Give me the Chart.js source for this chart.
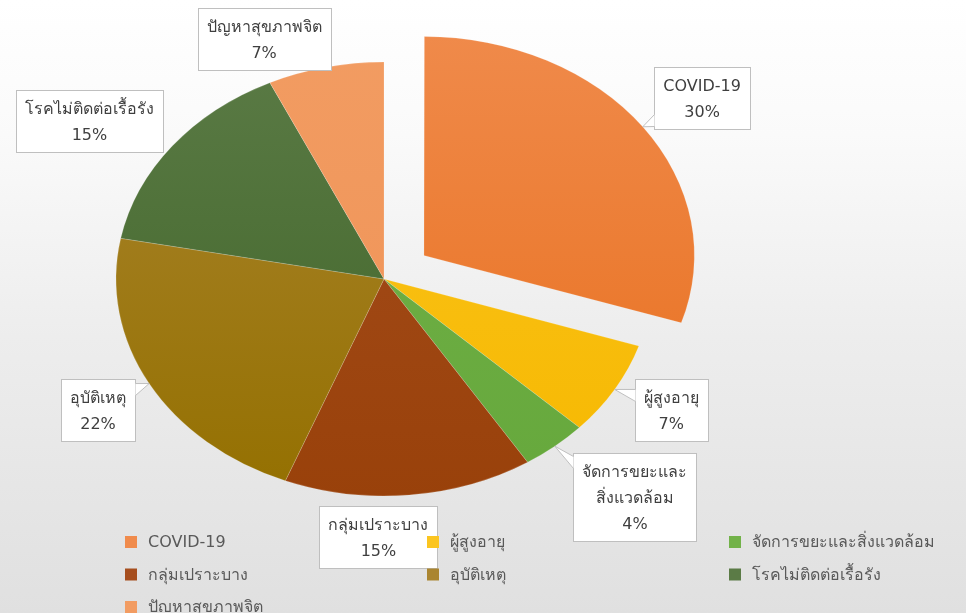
<!DOCTYPE html>
<html><head><meta charset="utf-8">
<script src="https://cdn.jsdelivr.net/npm/chart.js@4.4.1/dist/chart.umd.min.js"></script>
<style>
html,body{margin:0;padding:0;}
body{width:966px;height:613px;overflow:hidden;background:linear-gradient(to bottom,#ffffff 0%,#fafafa 22%,#ededed 55%,#e0e0e0 100%);}
#wrap{position:relative;width:966px;height:613px;}
canvas{display:block;}
</style></head><body>
<div id="wrap"><canvas id="c" width="966" height="613"></canvas></div>
<script>
// ---- data ----
const categories = ['COVID-19','ผู้สูงอายุ','จัดการขยะและสิ่งแวดล้อม','กลุ่มเปราะบาง','อุบัติเหตุ','โรคไม่ติดต่อเรื้อรัง','ปัญหาสุขภาพจิต'];
const shares = [30, 7, 4, 15, 22, 15, 7];
const percentText = ['30%','7%','4%','15%','22%','15%','7%'];
const labelLines = [['COVID-19'],['ผู้สูงอายุ'],['จัดการขยะและ','สิ่งแวดล้อม'],['กลุ่มเปราะบาง'],['อุบัติเหตุ'],['โรคไม่ติดต่อเรื้อรัง'],['ปัญหาสุขภาพจิต']];
const explodedSlice = [true, false, false, false, false, false, false];

// ---- style / layout ----
const colorTop    = ['#F08B4C','#FBC520','#72B249','#A64E1E','#AA8530','#5B7B46','#F29C62'];
const colorBottom = ['#E8701F','#F6B800','#66A83C','#99410A','#947000','#3F6427','#EF9255'];
const FONT = "'DejaVu Sans','Noto Sans',sans-serif";
const SX = 1.235;          // horizontal stretch of the pie
const R = 217;
const labelAngleAdj = [1, -1.2, -3.4, 6.4, -0.7, -4.3, -9.4];   // degrees
const labelDist = [1.258, 1.23, 1.373, 1.189, 1.226, 1.318, 1.194];
const showLeader = [true, true, true, false, true, false, false];

function grad(chart, i){
  const g = chart.ctx.createLinearGradient(0, 40, 0, 500);
  g.addColorStop(0, colorTop[i]); g.addColorStop(1, colorBottom[i]);
  return g;
}

const stretch = {
  id:'stretch',
  beforeDatasetsDraw(chart){
    const el = chart.getDatasetMeta(0).data[0];
    const c = chart.ctx; c.save();
    c.translate(el.x,0); c.scale(SX,1); c.translate(-el.x,0);
  },
  afterDatasetsDraw(chart){ chart.ctx.restore(); }
};

function arcGeom(el){
  const mid = (el.startAngle + el.endAngle)/2;
  const off = (el.options.offset||0)/4;
  const circ = el.endAngle - el.startAngle;
  const fix = 1 - Math.sin(Math.min(Math.PI, circ));
  const d = off + off*fix;
  return {mid, cx: el.x + Math.cos(mid)*d, cy: el.y + Math.sin(mid)*d, ox: el.x};
}

const dataLabels = {
  id:'dataLabels',
  afterDraw(chart){
    const c = chart.ctx;
    const meta = chart.getDatasetMeta(0);
    c.save();
    c.font = '16px ' + FONT;
    meta.data.forEach((el, i) => {
      const g = arcGeom(el);
      const sx = x => g.ox + (x - g.ox)*SX;
      const r = el.outerRadius;
      const tip = {x: sx(g.cx + Math.cos(g.mid)*r), y: g.cy + Math.sin(g.mid)*r};
      const a = g.mid + labelAngleAdj[i]*Math.PI/180;
      const lc = {x: sx(g.cx + Math.cos(a)*r*labelDist[i]), y: g.cy + Math.sin(a)*r*labelDist[i]};
      const lines = labelLines[i].concat([percentText[i]]);
      let w = 0; lines.forEach(t => w = Math.max(w, c.measureText(t).width));
      const bw = Math.round(w + 18), lh = 26, bh = lines.length*lh + 10;
      const L = Math.round(lc.x - bw/2)+0.5, T = Math.round(lc.y - bh/2)+0.5;
      c.fillStyle = '#ffffff'; c.strokeStyle = '#BFBFBF'; c.lineWidth = 1;
      c.fillRect(L, T, bw, bh); c.strokeRect(L, T, bw, bh);
      // callout tail
      const Rr = L + bw, B = T + bh;
      let base = null;
      const clamp = (v, lo, hi) => Math.max(lo, Math.min(hi, v));
      if (showLeader[i]) {
        if (tip.x < L) { const y = clamp(tip.y, T+3, B-15); base = [[L, y], [L, y+12]]; }
        else if (tip.x > Rr) { const y = clamp(tip.y, T+3, B-15); base = [[Rr, y], [Rr, y+12]]; }
        else if (tip.y < T) { const x = clamp(tip.x, L+3, Rr-15); base = [[x, T], [x+12, T]]; }
        else { const x = clamp(tip.x, L+3, Rr-15); base = [[x, B], [x+12, B]]; }
      }
      if (base) {
        c.beginPath(); c.moveTo(base[0][0], base[0][1]); c.lineTo(tip.x, tip.y); c.lineTo(base[1][0], base[1][1]); c.closePath();
        c.fillStyle = '#ffffff'; c.fill();
        c.beginPath(); c.moveTo(base[0][0], base[0][1]); c.lineTo(tip.x, tip.y); c.lineTo(base[1][0], base[1][1]);
        c.strokeStyle = '#BFBFBF'; c.stroke();
      }
      c.fillStyle = '#3F3F3F'; c.textAlign = 'center'; c.textBaseline = 'middle';
      lines.forEach((t, k) => c.fillText(t, lc.x, T + 5 + lh*k + lh/2 + 1));
    });
    c.restore();
  }
};

const gridLegend = {
  id:'gridLegend',
  afterDraw(chart){
    const c = chart.ctx; c.save();
    c.font = '16px ' + FONT; c.textBaseline = 'middle'; c.textAlign = 'left';
    categories.forEach((name, i) => {
      const col = i % 3, row = Math.floor(i/3);
      const x = 125 + col*302, y = 542 + row*32.5;
      c.fillStyle = colorTop[i]; c.fillRect(x, y-6, 12, 12);
      c.fillStyle = '#595959'; c.fillText(name, x + 23, y + 1);
    });
    c.restore();
  }
};

new Chart(document.getElementById('c'), {
  type: 'pie',
  data: {
    labels: categories,
    datasets: [{
      data: shares,
      backgroundColor: ctx => grad(ctx.chart, ctx.dataIndex),
      borderWidth: 0.6,
      borderColor: 'rgba(255,255,255,0.25)',
      offset: explodedSlice.map(e => e ? 160 : 0),
      radius: R,
      clip: false
    }]
  },
  options: {
    responsive: false,
    animation: false,
    events: [],
    radius: R,
    layout: {padding: {left: 0, right: 198, top: 0, bottom: 55}},
    plugins: {legend: {display: false}, tooltip: {enabled: false}}
  },
  plugins: [stretch, dataLabels, gridLegend]
});
</script>
</body></html>
